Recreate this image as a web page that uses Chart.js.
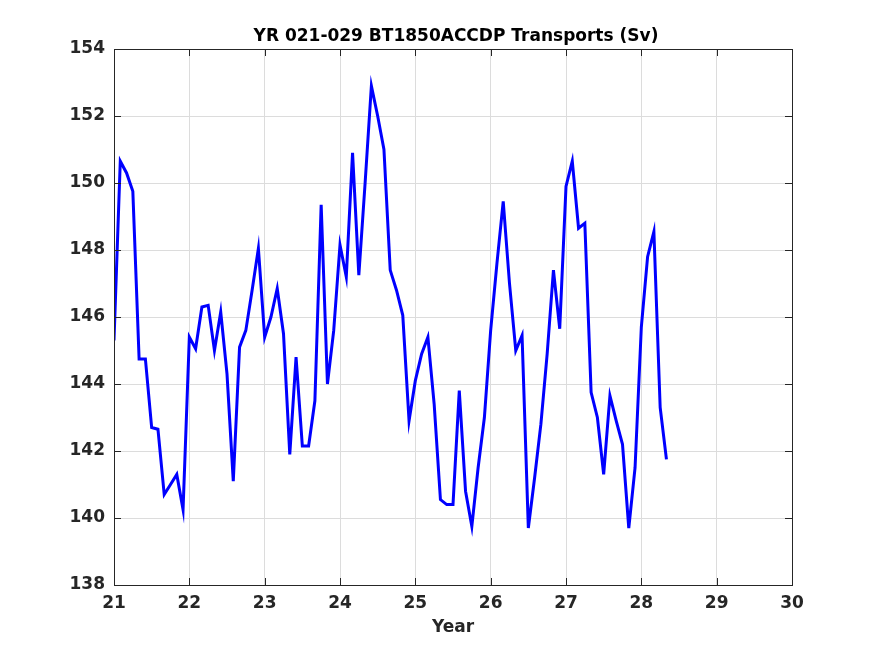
<!DOCTYPE html>
<html>
<head>
<meta charset="utf-8">
<script src="https://cdn.jsdelivr.net/npm/chart.js@4.4.0/dist/chart.umd.min.js"></script>
<style>
  html, body { margin: 0; padding: 0; background: #fff; }
  #wrap { width: 875px; height: 656px; }
</style>
</head>
<body>
<div id="wrap"><canvas id="grafico" width="875" height="656"></canvas></div>
<script>
// monthly values, year 21 onward (step 1/12 year)
const inicio = 21
const transportes = [
  145.3, 150.65, 150.3, 149.75, 144.75, 144.75, 142.7, 142.65, 140.7, 141.0, 141.3, 140.25,
  145.4, 145.05, 146.3, 146.35, 145.0, 146.15, 144.3, 141.1, 145.1, 145.6, 146.8, 148.05,
  145.4, 146.0, 146.85, 145.5, 141.9, 144.8, 142.15, 142.15, 143.5, 149.35, 144.0, 145.6,
  148.15, 147.2, 150.9, 147.25, 150.0, 152.9, 152.0, 151.0, 147.4, 146.8, 146.05, 142.9,
  144.1, 144.9, 145.4, 143.4, 140.55, 140.4, 140.4, 143.8, 140.8, 139.75, 141.5, 143.0,
  145.6, 147.6, 149.45, 147.0, 145.0, 145.45, 139.7, 141.2, 142.8, 144.9, 147.4, 145.65,
  149.9, 150.65, 148.65, 148.8, 143.75, 143.0, 141.3, 143.65, 142.9, 142.2, 139.7, 141.5,
  145.7, 147.8, 148.55, 143.3, 141.75
]
const ticksX = [21, 22, 23, 24, 25, 26, 27, 28, 29, 30]
const ticksY = [138, 140, 142, 144, 146, 148, 150, 152, 154]
const titulo = 'YR 021-029 BT1850ACCDP Transports (Sv)'

const puntos = transportes.map((v, i) => ({ x: inicio + i / 12, y: v }))

const tinta = '#262626'
const fuente = { family: 'DejaVu Sans', size: 17, weight: 'bold' }

// box, inward ticks and title like matlab
const marco = {
  id: 'marco',
  afterDraw(chart) {
    const { ctx, chartArea: a, scales } = chart
    ctx.save()
    ctx.strokeStyle = tinta
    ctx.lineWidth = 1
    ctx.beginPath()
    ticksX.forEach(t => {
      const px = Math.round(scales.x.getPixelForValue(t)) + 0.5
      ctx.moveTo(px, a.bottom); ctx.lineTo(px, a.bottom - 7)
      ctx.moveTo(px, a.top); ctx.lineTo(px, a.top + 7)
    })
    ticksY.forEach(t => {
      const py = Math.round(scales.y.getPixelForValue(t)) + 0.5
      ctx.moveTo(a.left, py); ctx.lineTo(a.left + 7, py)
      ctx.moveTo(a.right, py); ctx.lineTo(a.right - 7, py)
    })
    ctx.stroke()
    ctx.strokeRect(Math.round(a.left) + 0.5, Math.round(a.top) + 0.5,
      Math.round(a.right - a.left), Math.round(a.bottom - a.top))
    ctx.fillStyle = '#000'
    ctx.font = 'bold 17px "DejaVu Sans"'
    ctx.textAlign = 'center'
    ctx.textBaseline = 'middle'
    ctx.fillText(titulo, (a.left + a.right) / 2 + 3, 37)
    ctx.restore()
  }
}

const ctx = document.getElementById('grafico')
let grafico = new Chart(ctx, {
  type: 'line',
  data: {
    datasets: [{
      data: puntos,
      borderColor: '#0000ff',
      borderWidth: 3,
      pointRadius: 0,
      tension: 0,
      fill: false
    }]
  },
  options: {
    responsive: false,
    animation: false,
    layout: { padding: { left: 0, top: 49, right: 83, bottom: 0 } },
    plugins: { legend: { display: false }, tooltip: { enabled: false } },
    scales: {
      x: {
        type: 'linear',
        min: 21, max: 30,
        afterBuildTicks: s => { s.ticks = ticksX.map(v => ({ value: v })) },
        afterFit: s => { s.height = 71 },
        grid: { color: '#dcdcdc', drawTicks: false },
        border: { display: false },
        ticks: { color: tinta, font: fuente, padding: 8, maxRotation: 0 },
        title: { display: true, text: 'Year', color: tinta, font: fuente, padding: { top: 0, bottom: 18 } }
      },
      y: {
        type: 'linear',
        min: 138, max: 154,
        afterBuildTicks: s => { s.ticks = ticksY.map(v => ({ value: v })) },
        afterFit: s => { s.width = 114 },
        grid: { color: '#dcdcdc', drawTicks: false },
        border: { display: false },
        ticks: { color: tinta, font: fuente, padding: 9 }
      }
    }
  },
  plugins: [marco]
})
</script>
</body>
</html>
